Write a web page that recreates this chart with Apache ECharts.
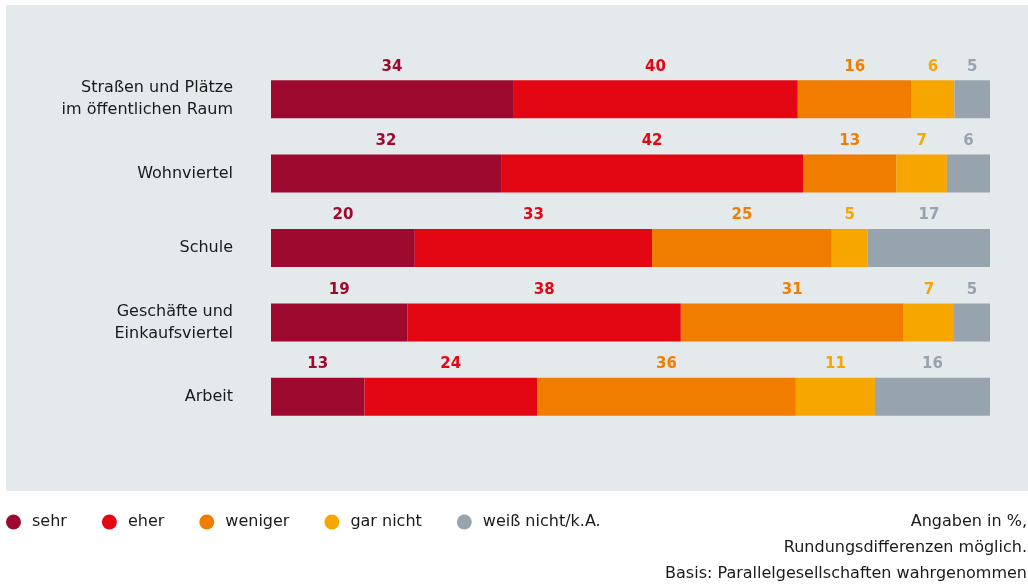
<!DOCTYPE html>
<html>
<head>
<meta charset="utf-8">
<script src="https://cdn.jsdelivr.net/npm/echarts@6/dist/echarts.min.js"></script>
<style>
  html, body { margin: 0; padding: 0; background: #ffffff; }
  #chart { width: 1028px; height: 584px; }
</style>
</head>
<body>
<div id="chart"></div>
<script>
  const categories = [
    'Straßen und Plätze\nim öffentlichen Raum',
    'Wohnviertel',
    'Schule',
    'Geschäfte und\nEinkaufsviertel',
    'Arbeit'
  ];
  const seriesNames = ['sehr', 'eher', 'weniger', 'gar nicht', 'weiß nicht/k.A.'];
  const sehr = [34, 32, 20, 19, 13];
  const eher = [40, 42, 33, 38, 24];
  const weniger = [16, 13, 25, 31, 36];
  const garNicht = [6, 7, 5, 7, 11];
  const weissNicht = [5, 6, 17, 5, 16];
  const colors = ['#9e0a2f', '#e30613', '#f07d00', '#f7a600', '#97a4ad'];
  const notes = ['Angaben in %,', 'Rundungsdifferenzen möglich.', 'Basis: Parallelgesellschaften wahrgenommen'];

  const values = [sehr, eher, weniger, garNicht, weissNicht];
  // bars are stretched to full width per row, labels keep the raw numbers
  const totals = categories.map((c, i) => values.reduce((s, arr) => s + arr[i], 0));

  const font = '"DejaVu Sans", sans-serif';

  const series = values.map((arr, k) => ({
    name: seriesNames[k],
    type: 'bar',
    stack: 'total',
    barWidth: 38,
    itemStyle: {color: colors[k]},
    label: {
      show: true,
      position: 'top',
      distance: 6,
      fontFamily: font,
      fontWeight: 'bold',
      fontSize: 15,
      color: colors[k],
      formatter: p => arr[p.dataIndex]
    },
    data: arr.map((v, i) => v / totals[i] * 100)
  }));

  const chart = echarts.init(document.getElementById('chart'));
  chart.setOption({
    animation: false,
    graphic: [
      {
        type: 'rect',
        z: -10,
        shape: {x: 6, y: 5, width: 1022, height: 486},
        style: {fill: '#e4e9ec'}
      }
    ].concat(notes.map((t, i) => ({
      type: 'text',
      right: 1,
      top: 514 + i * 26,
      style: {text: t, fill: '#1a1a1a', font: '16px ' + font, textAlign: 'right'}
    }))),
    legend: {
      left: 6,
      top: 514,
      padding: 0,
      icon: 'circle',
      itemWidth: 15,
      itemHeight: 15,
      itemGap: 35,
      textStyle: {fontFamily: font, fontSize: 16, color: '#1a1a1a', padding: [0, 0, 0, 6]},
      data: seriesNames
    },
    grid: {left: 271, right: 38, top: 62, height: 372},
    xAxis: {
      type: 'value',
      min: 0,
      max: 100,
      show: false
    },
    yAxis: {
      type: 'category',
      inverse: true,
      data: categories,
      axisLine: {show: false},
      axisTick: {show: false},
      axisLabel: {
        margin: 38,
        fontFamily: font,
        fontSize: 16,
        lineHeight: 22,
        color: '#1a1a1a',
        align: 'right'
      }
    },
    series: series
  });
</script>
</body>
</html>
